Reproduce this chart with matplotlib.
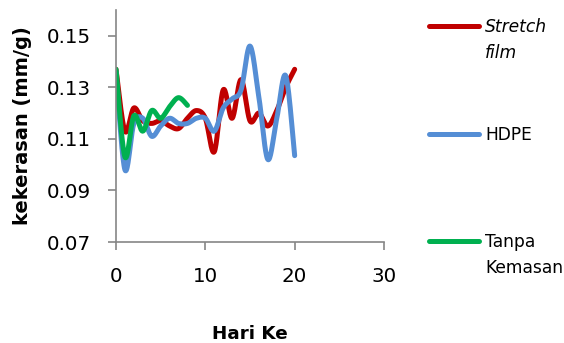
import matplotlib
matplotlib.use('Agg')
import matplotlib.pyplot as plt
from matplotlib.lines import Line2D
import numpy as np

plt.rcParams['font.family'] = ['DejaVu Sans']

# data
days_long = list(range(0, 21))
days_short = list(range(0, 9))
stretch_film = [0.137, 0.113, 0.122, 0.117, 0.116, 0.117, 0.115, 0.114, 0.118, 0.121, 0.118,
                0.105, 0.129, 0.118, 0.133, 0.117, 0.120, 0.115, 0.121, 0.130, 0.137]
hdpe = [0.136, 0.098, 0.116, 0.118, 0.111, 0.115, 0.118, 0.116, 0.116, 0.118, 0.118,
        0.113, 0.122, 0.1255, 0.129, 0.146, 0.126, 0.102, 0.118, 0.1345, 0.1035]
tanpa_kemasan = [0.137, 0.103, 0.119, 0.113, 0.121, 0.118, 0.1225, 0.126, 0.123]

labels = [['Stretch', 'film'], ['HDPE'], ['Tanpa', 'Kemasan']]
colors = ['#C00000', '#558ED5', '#00B050']
x_ticks = [0, 10, 20, 30]
y_ticks = [0.07, 0.09, 0.11, 0.13, 0.15]


def smooth(x, y, n=20):
    """Excel style smoothed line (Catmull-Rom through the points)"""
    x = np.asarray(x, float)
    y = np.asarray(y, float)
    px = np.concatenate([[x[0]], x, [x[-1]]])
    py = np.concatenate([[y[0]], y, [y[-1]]])
    xs, ys = [], []
    t = np.linspace(0, 1, n, endpoint=False)
    for i in range(1, len(px) - 2):
        p0x, p1x, p2x, p3x = px[i - 1:i + 3]
        p0y, p1y, p2y, p3y = py[i - 1:i + 3]
        c1x, c1y = p1x + (p2x - p0x) / 6, p1y + (p2y - p0y) / 6
        c2x, c2y = p2x - (p3x - p1x) / 6, p2y - (p3y - p1y) / 6
        bx = (1 - t) ** 3 * p1x + 3 * (1 - t) ** 2 * t * c1x + 3 * (1 - t) * t ** 2 * c2x + t ** 3 * p2x
        by = (1 - t) ** 3 * p1y + 3 * (1 - t) ** 2 * t * c1y + 3 * (1 - t) * t ** 2 * c2y + t ** 3 * p2y
        xs.extend(bx)
        ys.extend(by)
    xs.append(x[-1])
    ys.append(y[-1])
    return np.array(xs), np.array(ys)


W, H = 564, 343
fig = plt.figure(figsize=(W / 100, H / 100), dpi=100)
ax = fig.add_axes([116 / W, 1 - 242 / H, (384 - 116) / W, (242 - 10) / H])

series = [(days_long, stretch_film), (days_long, hdpe), (days_short, tanpa_kemasan)]
for (xd, yd), c in zip(series, colors):
    sx, sy = smooth(xd, yd)
    ax.plot(sx, sy, color=c, lw=3.6, solid_capstyle='round', solid_joinstyle='round')

ax.set_xlim(0, 30)
ax.set_ylim(0.07, 0.16)
ax.set_xticks(x_ticks)
ax.set_yticks(y_ticks)
ax.set_yticklabels([f'{v:.2f}' for v in y_ticks])

for s in ['top', 'right']:
    ax.spines[s].set_visible(False)
for s in ['left', 'bottom']:
    ax.spines[s].set_color('#868686')
    ax.spines[s].set_linewidth(1.2)
ax.tick_params(direction='out', length=6, width=1.2, color='#868686', labelsize=14.3, pad=12)
ax.tick_params(axis='x', pad=12)

ax.set_ylabel('kekerasan (mm/g)', fontsize=14, fontweight='bold', labelpad=10.5)
ax.set_xlabel('Hari Ke', fontsize=13.2, fontweight='bold', labelpad=28)

# legend on the right, drawn by hand
leg_y = [26, 134, 240.7]
for lab, c, ly in zip(labels, colors, leg_y):
    fig.add_artist(Line2D([428.5 / W, 478.5 / W], [1 - ly / H, 1 - ly / H], color=c, lw=3.6,
                          solid_capstyle='round', transform=fig.transFigure))
    for k, part in enumerate(lab):
        base = ly + 6.3 + 25.7 * k
        fig.text(485 / W, 1 - base / H, part, fontsize=12.3, va='baseline', ha='left',
                 style='italic' if c == '#C00000' else 'normal')

fig.savefig('out.png', dpi=100)
